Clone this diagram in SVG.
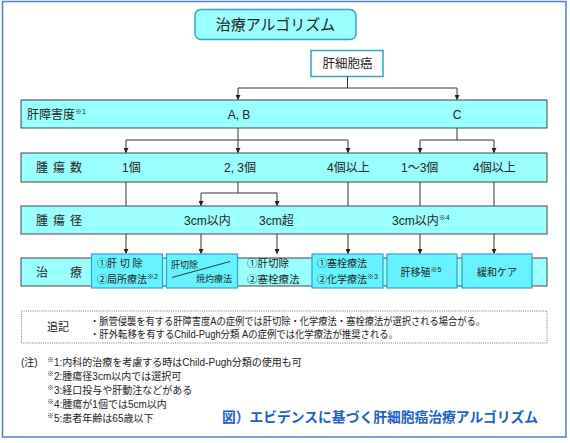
<svg xmlns="http://www.w3.org/2000/svg" width="570" height="443" viewBox="0 0 570 443">
<defs>
<style>
text{font-family:"Liberation Sans","Noto Sans CJK JP",sans-serif;fill:#222;}
.bar{fill:#99FFFF;stroke:#444;stroke-width:1;}
.tb{fill:#66F2FF;stroke:#2FA3C8;stroke-width:1.2;}
.row{font-size:12px;}
.t10{font-size:10px;}
.sup{font-size:7px;}
.con{fill:none;stroke:#333;stroke-width:1;}
.arr{marker-end:url(#ah);}
</style>
<marker id="ah" markerWidth="5" markerHeight="5" refX="5" refY="2.5" orient="auto" markerUnits="userSpaceOnUse">
<path d="M0,0 L5,2.5 L0,5 z" fill="#222"/>
</marker>
</defs>
<rect x="0" y="0" width="570" height="443" fill="#fff"/>
<rect id="frame" x="2.5" y="1.5" width="563.5" height="435.5" fill="#fff" stroke="#4A7FD6" stroke-width="1.5"/>

<g id="title">
<rect x="195" y="9.5" width="161" height="30" rx="6" fill="#99FFFF" stroke="#2FA3C8" stroke-width="1.5"/>
<text x="275.5" y="30" font-size="15" text-anchor="middle">治療アルゴリズム</text>
</g>

<g id="hcc">
<rect x="311" y="50.5" width="72" height="26" fill="#fff" stroke="#2FA3C8" stroke-width="1.5"/>
<text x="347.5" y="68" font-size="12.5" text-anchor="middle">肝細胞癌</text>
</g>

<g id="connectors">
<path class="con" d="M347.5,76.5 V88 M238,88 H457"/>
<path class="con arr" d="M238,88 V100"/>
<path class="con arr" d="M457,88 V100"/>
<path class="con" d="M238,128 V140 M126,140 H348 M457,128 V140 M420,140 H494"/>
<path class="con arr" d="M126,140 V153"/>
<path class="con arr" d="M238,140 V153"/>
<path class="con arr" d="M348,140 V153"/>
<path class="con arr" d="M420,140 V153"/>
<path class="con arr" d="M494,140 V153"/>
<path class="con" d="M126,182 V206 M238,182 V193 M201,193 H277 M348,182 V206 M420,182 V206 M494,182 V206"/>
<path class="con arr" d="M201,193 V206"/>
<path class="con arr" d="M277,193 V206"/>
<path class="con arr" d="M126,234 V254"/>
<path class="con arr" d="M201,234 V254"/>
<path class="con arr" d="M277,234 V254"/>
<path class="con arr" d="M348,234 V254"/>
<path class="con arr" d="M420,234 V254"/>
<path class="con arr" d="M494,234 V254"/>
</g>

<g id="row-liver">
<rect class="bar" x="21" y="100" width="526" height="28"/>
<text class="row" x="27" y="118.5">肝障害度<tspan class="sup" dy="-5">※1</tspan></text>
<text class="row" x="239" y="118.5" text-anchor="middle">A, B</text>
<text class="row" x="457" y="118.5" text-anchor="middle">C</text>
</g>

<g id="row-count">
<rect class="bar" x="21" y="153" width="526" height="29"/>
<text class="row" x="36" y="172" letter-spacing="5">腫瘍数</text>
<text class="row" x="122" y="172">1個</text>
<text class="row" x="224" y="172">2, 3個</text>
<text class="row" x="327" y="172">4個以上</text>
<text class="row" x="401" y="172">1～3個</text>
<text class="row" x="473" y="172">4個以上</text>
</g>

<g id="row-size">
<rect class="bar" x="21" y="206" width="526" height="28"/>
<text class="row" x="36" y="224.5" letter-spacing="5">腫瘍径</text>
<text class="row" x="184" y="224.5">3cm以内</text>
<text class="row" x="259" y="224.5">3cm超</text>
<text class="row" x="392" y="224.5">3cm以内<tspan class="sup" dy="-5">※4</tspan></text>
</g>

<g id="row-treatment">
<rect class="bar" x="21" y="258" width="526" height="28"/>
<text class="row" x="36 70" y="276.5">治療</text>
</g>

<g id="tx-resection-local">
<rect class="tb" x="91.5" y="254" width="71" height="34"/>
<text class="t10" x="97" y="266.5">①肝 切 除</text>
<text class="t10" x="97" y="282.5">②局所療法<tspan class="sup" dy="-4">※2</tspan></text>
</g>

<g id="tx-resection-ablation">
<rect class="tb" x="166.5" y="254" width="71" height="34"/>
<line x1="172" y1="277.5" x2="230" y2="261.5" stroke="#222" stroke-width="0.9"/>
<text x="171" y="268" font-size="9">肝切除</text>
<text x="232" y="282" font-size="9" text-anchor="end">焼灼療法</text>
</g>

<g id="tx-resection-embolization">
<text x="247" y="266.5" font-size="10.5">①肝切除</text>
<text x="247" y="282.5" font-size="10.5">②塞栓療法</text>
</g>

<g id="tx-embolization-chemo">
<rect class="tb" x="312" y="254" width="71" height="34"/>
<text class="t10" x="317" y="266.5">①塞栓療法</text>
<text class="t10" x="317" y="282.5">②化学療法<tspan class="sup" dy="-4">※3</tspan></text>
</g>

<g id="tx-transplant">
<rect class="tb" x="387" y="254" width="70" height="34"/>
<text class="t10" x="421" y="276" text-anchor="middle">肝移殖<tspan class="sup" dy="-4">※5</tspan></text>
</g>

<g id="tx-palliative">
<rect class="tb" x="462" y="254" width="70" height="34"/>
<text class="t10" x="497" y="276" text-anchor="middle">緩和ケア</text>
</g>

<g id="addendum">
<rect x="21.5" y="311" width="525.5" height="32" fill="none" stroke="#555" stroke-width="0.8" stroke-dasharray="1,1.2"/>
<text x="47" y="331" font-size="11">追記</text>
<text x="90" y="325" font-size="10" textLength="395" lengthAdjust="spacingAndGlyphs">・脈管侵襲を有する肝障害度Aの症例では肝切除・化学療法・塞栓療法が選択される場合がる。</text>
<text x="90" y="337.5" font-size="10" textLength="308" lengthAdjust="spacingAndGlyphs">・肝外転移を有するChild-Pugh分類 Aの症例では化学療法が推奨される。</text>
</g>

<g id="notes">
<text x="21" y="366" font-size="10">(注)</text>
<text x="47" y="366" font-size="10"><tspan class="sup" dy="-4">※</tspan><tspan dy="4">1:内科的治療を考慮する時はChild-Pugh分類の使用も可</tspan></text>
<text x="47" y="380" font-size="10"><tspan class="sup" dy="-4">※</tspan><tspan dy="4">2:腫瘍径3cm以内では選択可</tspan></text>
<text x="47" y="394" font-size="10"><tspan class="sup" dy="-4">※</tspan><tspan dy="4">3:経口投与や肝動注などがある</tspan></text>
<text x="47" y="408" font-size="10"><tspan class="sup" dy="-4">※</tspan><tspan dy="4">4:腫瘍が1個では5cm以内</tspan></text>
<text x="47" y="422" font-size="10"><tspan class="sup" dy="-4">※</tspan><tspan dy="4">5:患者年齢は65歳以下</tspan></text>
</g>

<g id="caption">
<text x="222" y="422" font-size="14" font-weight="bold" style="fill:#1E5FC8" textLength="316" lengthAdjust="spacingAndGlyphs">図）エビデンスに基づく肝細胞癌治療アルゴリズム</text>
</g>
</svg>
